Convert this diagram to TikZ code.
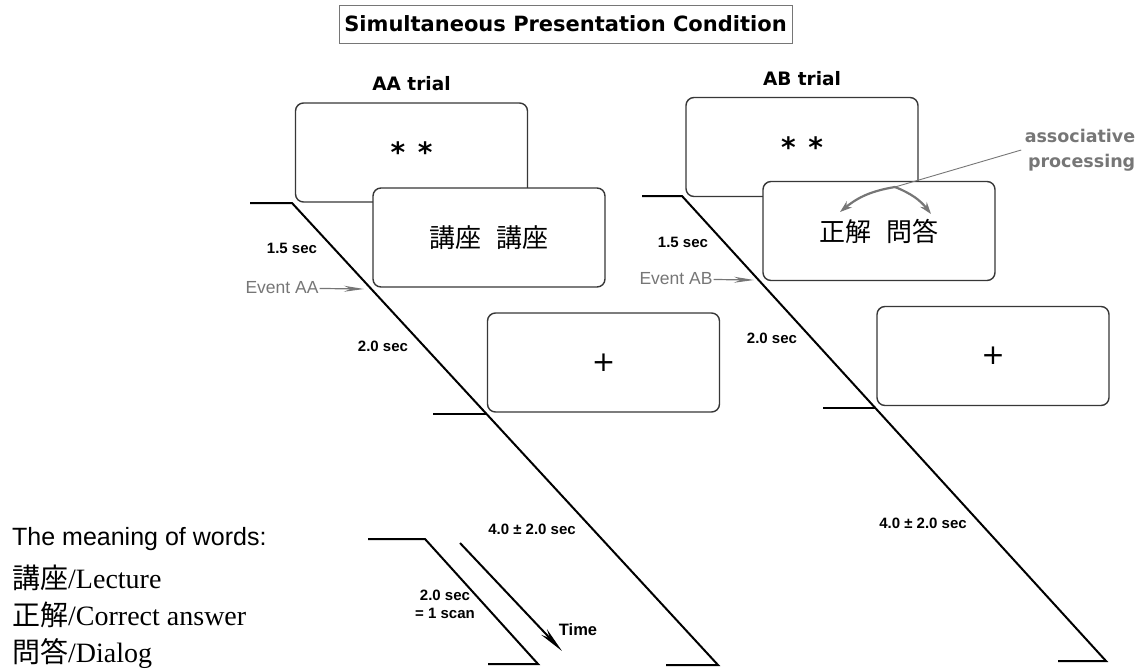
\documentclass[tikz,border=0pt]{standalone}
\usepackage{fontspec}
\setmainfont{Liberation Serif}
\newfontfamily\cjk{Noto Sans CJK JP}
\newfontfamily\headfont{DejaVu Sans}
\newfontfamily\labelfont{Liberation Sans}
\usetikzlibrary{arrows.meta, positioning}
\definecolor{framegray}{RGB}{55,55,55}
\definecolor{notegray}{RGB}{118,118,118}
\tikzset{
    titlebox/.style={
        rectangle,
        draw=notegray,
        line width=1pt,
        minimum width=453pt,
        minimum height=38pt,
        font=\headfont\bfseries\fontsize{21}{24}\selectfont
    },
    screen/.style={
        rectangle,
        rounded corners=8pt,
        draw=framegray,
        line width=1.4pt,
        fill=white,
        minimum width=232pt,
        minimum height=99pt,
        inner sep=0pt
    },
    stars/.style={font=\headfont\bfseries\fontsize{28}{28}\selectfont},
    cross/.style={font=\headfont\fontsize{28}{28}\selectfont},
    words/.style={font=\cjk\fontsize{26}{26}\selectfont},
    trial/.style={font=\headfont\bfseries\fontsize{18.5}{20}\selectfont},
    timeline/.style={
        draw=black,
        line width=2pt
    },
    dur/.style={
        font=\labelfont\bfseries\fontsize{15}{18}\selectfont,
        inner sep=1pt
    },
    event/.style={
        text=notegray,
        font=\labelfont\fontsize{17.5}{20}\selectfont,
        inner sep=1pt
    },
    eventarrow/.style={
        draw=notegray,
        line width=1.2pt,
        -{Stealth[length=20pt,width=6pt]}
    },
    assoc/.style={
        draw=notegray,
        line width=2.2pt,
        -{Stealth[length=12pt,width=8pt]}
    },
    pointer/.style={
        draw=notegray,
        line width=0.9pt
    },
    note/.style={
        text=notegray,
        align=right,
        font=\headfont\bfseries\fontsize{17.5}{25}\selectfont
    },
    timearrow/.style={
        draw=black,
        line width=2pt,
        -{Stealth[length=26pt,width=8pt]}
    },
    timelabel/.style={font=\labelfont\bfseries\fontsize{16.5}{20}\selectfont},
    meaning/.style={font=\labelfont\fontsize{25}{28}\selectfont, inner sep=0pt},
    gloss/.style={font=\fontsize{28}{30}\selectfont, inner sep=0pt}
}

\begin{document}
\begin{tikzpicture}[x=1pt, y=-1pt]
\useasboundingbox (0,0) rectangle (1143,670);

% Title
\node[titlebox] (title) at (565.5,24) {Simultaneous Presentation Condition};

% AA trial screens
\node[screen, stars] (aa_fix) at (411.5,152.5) {*\hspace{0.45em}*};
\node[screen, words] (aa_word) at (489,237.5) {講座\hspace{0.6em}講座};
\node[screen, cross] (aa_cross) at (603.5,362.5) {+};
\node[trial, above=8pt of aa_fix] (aa_label) {AA trial};

% AB trial screens
\node[screen, stars] (ab_fix) at (802,147) {*\hspace{0.45em}*};
\node[screen, words] (ab_word) at (879,231) {正解\hspace{0.6em}問答};
\node[screen, cross] (ab_cross) at (993,356) {+};
\node[trial, above=8pt of ab_fix] (ab_label) {AB trial};

% AA time line
\coordinate (aa_in) at (250,203);
\coordinate (aa_on) at (292,203);
\coordinate (aa_off) at (718,665);
\coordinate (aa_out) at (666,665);
\coordinate (aa_next) at (433,414);
\coordinate (aa_jit) at (486.6,414);
\coordinate (aa_event) at (364,289);
\draw[timeline] (aa_in) -- (aa_on) -- (aa_off) -- (aa_out);
\draw[timeline] (aa_next) -- (aa_jit);
\node[dur] (aa_d1) at (292,248) {1.5 sec};
\node[dur] (aa_d2) at (383,346) {2.0 sec};
\node[dur] (aa_d3) at (532,529) {4.0 ± 2.0 sec};
\node[event] (aa_ev) at (282,288) {Event AA};
\draw[eventarrow] (aa_ev) -- (aa_event);

% AB time line
\coordinate (ab_in) at (642,196);
\coordinate (ab_on) at (682,196);
\coordinate (ab_off) at (1106,661);
\coordinate (ab_out) at (1058,661);
\coordinate (ab_next) at (823,408);
\coordinate (ab_jit) at (875.3,408);
\coordinate (ab_event) at (754,280);
\draw[timeline] (ab_in) -- (ab_on) -- (ab_off) -- (ab_out);
\draw[timeline] (ab_next) -- (ab_jit);
\node[dur] (ab_d1) at (683,242) {1.5 sec};
\node[dur] (ab_d2) at (772,338) {2.0 sec};
\node[dur] (ab_d3) at (923,523) {4.0 ± 2.0 sec};
\node[event] (ab_ev) at (676,279) {Event AB};
\draw[eventarrow] (ab_ev) -- (ab_event);

% Associative processing
\coordinate (ab_peak) at (895,187);
\coordinate (ab_left) at (840,212);
\coordinate (ab_right) at (931,214);
\draw[assoc] (ab_peak) to[bend right=15] (ab_left);
\draw[assoc] (ab_peak) to[bend left=15] (ab_right);
\node[note] (assoc) at (1080,150) {associative\\processing};
\draw[pointer] (assoc.west) -- (ab_peak);

% Scan legend
\coordinate (sc_in) at (368,539);
\coordinate (sc_on) at (425,539);
\coordinate (sc_off) at (538,664);
\coordinate (sc_out) at (488,664);
\coordinate (time_from) at (460,543);
\coordinate (time_to) at (562,651);
\draw[timeline] (sc_in) -- (sc_on) -- (sc_off) -- (sc_out);
\draw[timearrow] (time_from) -- (time_to);
\node[dur, align=center] (scan) at (445,604) {2.0 sec\\= 1 scan};
\node[timelabel] (time) at (578,630) {Time};

% Word meanings
\node[meaning, anchor=base west] (meaning) at (12,545) {The meaning of words:};
\node[gloss, anchor=base west] (gloss_a) at (12,588) {{\cjk 講座}/Lecture};
\node[gloss, anchor=base west] (gloss_b) at (12,625) {{\cjk 正解}/Correct answer};
\node[gloss, anchor=base west] (gloss_c) at (12,662) {{\cjk 問答}/Dialog};

\end{tikzpicture}
\end{document}
